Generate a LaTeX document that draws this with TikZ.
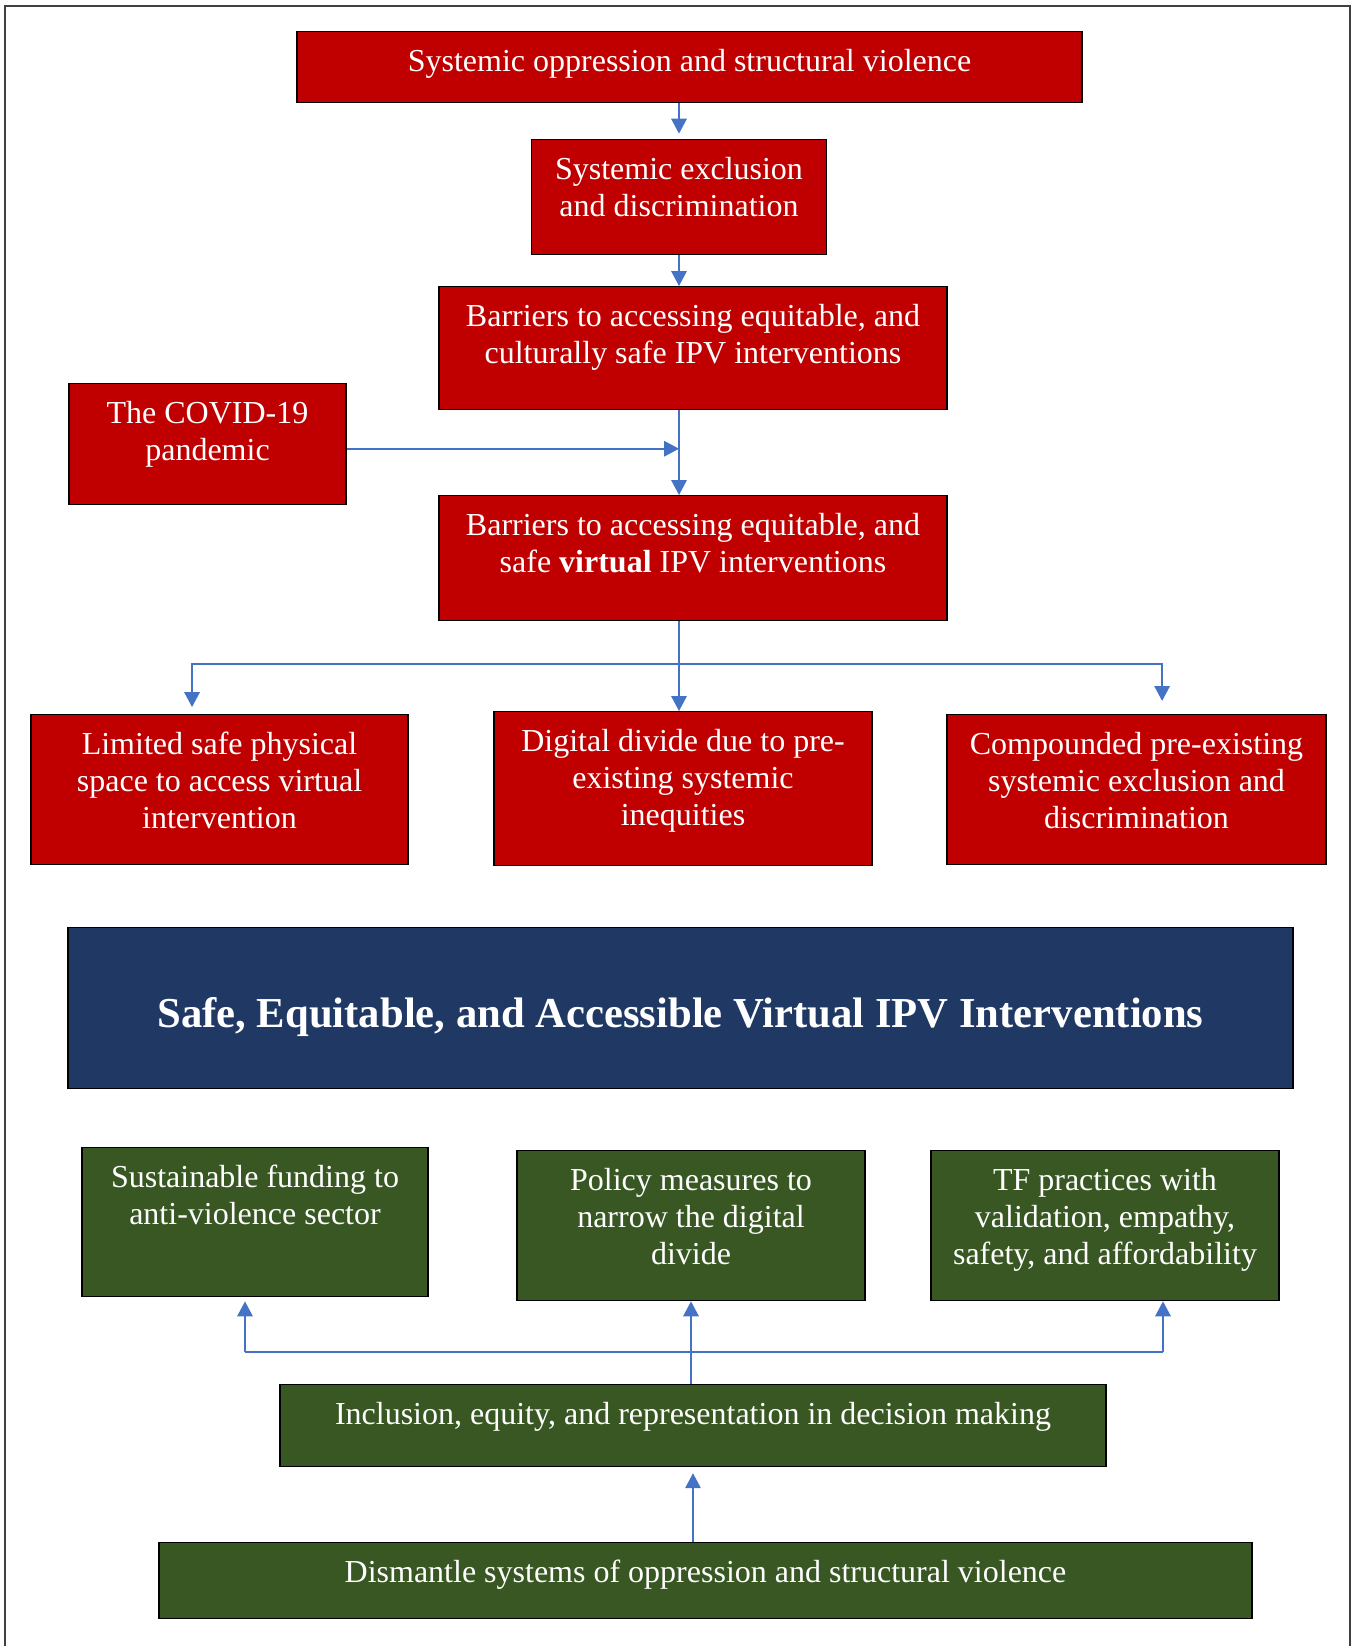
\documentclass[tikz,border=0pt]{standalone}
\usepackage{fontspec}
\setmainfont{Liberation Serif}
\usetikzlibrary{arrows.meta}

\definecolor{barred}{HTML}{C00000}
\definecolor{goalblue}{HTML}{203864}
\definecolor{actgreen}{HTML}{385723}
\definecolor{linkblue}{HTML}{4472C4}

\begin{document}
\begin{tikzpicture}[x=0.375pt, y=-0.375pt]
  \tikzstyle{box} = [rectangle, anchor=north, draw=black, line width=0.5pt, inner sep=0pt, text=white, align=flush center, text height=15pt, font=\fontsize{12}{13.9}\selectfont]
  \tikzstyle{cause} = [box, fill=barred]
  \tikzstyle{action} = [box, fill=actgreen]
  \tikzstyle{goal} = [box, fill=goalblue, font=\bfseries\fontsize{16}{19}\selectfont]
  \tikzstyle{line} = [draw=linkblue, line width=0.6pt]
  \tikzstyle{arrow} = [line, -{Triangle[length=5.6pt, width=5.8pt]}]

  \useasboundingbox (0,0) rectangle (1353,1646);
  \draw [black!75, line width=0.5pt] (5,1646) |- (1350,6) -- (1350,1646);

  % barriers
  \node (oppress) [cause, text width=294.4pt, text depth=11.6pt] at (689.5,31) {Systemic oppression and structural violence};
  \node (exclusion) [cause, text width=110.6pt, text depth=28.1pt] at (679,139) {Systemic exclusion\\and discrimination};
  \node (barriers) [cause, text width=190.5pt, text depth=31.1pt] at (693,286) {Barriers to accessing equitable, and\\culturally safe IPV interventions};
  \node (covid) [cause, text width=103.9pt, text depth=30.4pt] at (207.5,383) {The COVID-19\\pandemic};
  \node (virtual) [cause, text width=190.5pt, text depth=31.9pt] at (693,495) {Barriers to accessing equitable, and\\safe \textbf{virtual} IPV interventions};
  \node (space) [cause, text width=141.4pt, text depth=41.25pt] at (219.5,714) {Limited safe physical\\space to access virtual\\intervention};
  \node (divide) [cause, text width=141.75pt, text depth=42.75pt] at (683,711) {Digital divide due to pre-\\existing systemic\\inequities};
  \node (compound) [cause, text width=142.1pt, text depth=41.25pt] at (1136.5,714) {Compounded pre-existing\\systemic exclusion and\\discrimination};

  \node (target) [goal, text width=459.4pt, text height=37.5pt, text depth=22.9pt] at (680.5,927) {Safe, Equitable, and Accessible Virtual IPV Interventions};

  % actions
  \node (funding) [action, text width=129.75pt, text depth=40.9pt] at (255,1147) {Sustainable funding to\\anti-violence sector};
  \node (policy) [action, text width=130.5pt, text depth=41.25pt] at (691,1150) {Policy measures to\\narrow the digital\\divide};
  \node (practices) [action, text width=130.5pt, text depth=41.25pt] at (1105,1150) {TF practices with\\validation, empathy,\\safety, and affordability};
  \node (inclusion) [action, text width=309.75pt, text depth=15.75pt] at (693,1384) {Inclusion, equity, and representation in decision making};
  \node (dismantle) [action, text width=409.9pt, text depth=13.5pt] at (705.5,1542) {Dismantle systems of oppression and structural violence};

  \draw [arrow, shorten >=2pt] (oppress.south -| exclusion.north) -- (exclusion.north);
  \draw [arrow] (exclusion.south) -- (exclusion.south |- barriers.north);
  \draw [arrow] (barriers.south -| exclusion.south) -- (virtual.north -| exclusion.south);
  \draw [arrow] ([yshift=-1.7pt]covid.east) -- ([yshift=-1.7pt]covid.east -| exclusion.south);

  \coordinate (split) at (679,664);
  \draw [arrow] (virtual.south -| split) -- (divide.north -| split);
  \draw [arrow, shorten >=2.6pt] (split) -| ([xshift=-10.3pt]space.north);
  \draw [arrow, shorten >=4.9pt] (split) -| ([xshift=9.6pt]compound.north);

  \draw [arrow] (inclusion.north -| policy.south) -- (policy.south);
  \coordinate (busL) at (245,1352);
  \coordinate (busR) at (1163,1352);
  \draw [line] (busL) -- (busR);
  \draw [arrow, shorten >=1.5pt] (busL) -- (busL |- funding.south);
  \draw [arrow] (busR) -- (busR |- practices.south);
  \draw [arrow, shorten >=2.2pt] (dismantle.north -| inclusion.south) -- (inclusion.south);

\end{tikzpicture}
\end{document}
